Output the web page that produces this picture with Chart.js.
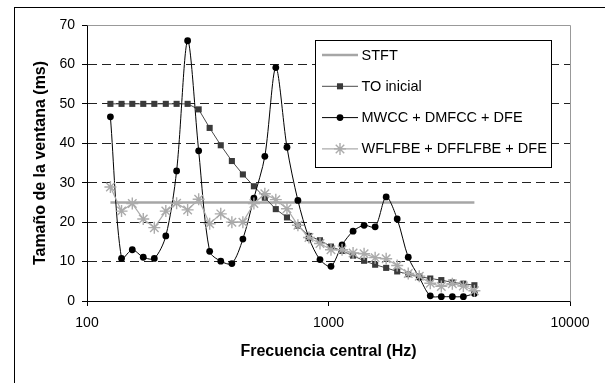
<!DOCTYPE html>
<html>
<head>
<meta charset="utf-8">
<script src="https://cdn.jsdelivr.net/npm/chart.js@4/dist/chart.umd.min.js"></script>
<style>
  body { margin: 0; background: #fff; }
  #caja { width: 605px; height: 383px; }
</style>
</head>
<body>
<div id="caja"><canvas id="grafico"></canvas></div>
<script>
// frecuencias centrales de los filtros (Hz)
const frecuencias = [125, 139, 154, 171, 190, 212, 235, 261, 290, 322, 358, 398, 442, 491, 545, 605,
  673, 747, 830, 922, 1024, 1138, 1264, 1404, 1560, 1733, 1925, 2139, 2376, 2639, 2932, 3257, 3618, 4019];

const stft = [25, 25, 25, 25, 25, 25, 25, 25, 25, 25, 25, 25, 25, 25, 25, 25, 25,
  25, 25, 25, 25, 25, 25, 25, 25, 25, 25, 25, 25, 25, 25, 25, 25, 25];

const toInicial = [50, 50, 50, 50, 50, 50, 50, 50, 48.6, 43.9, 39.5, 35.5, 32.1, 29.1, 26.2, 23.3, 21.2,
  19.1, 16.5, 15.4, 13.8, 12.7, 11.5, 10.2, 9.2, 8.4, 7.5, 6.8, 6.2, 5.7, 5.3, 4.7, 4.4, 4.0];

const mwcc = [46.7, 10.8, 13.0, 11.1, 10.8, 16.5, 33.0, 66.0, 38.1, 12.6, 10.1, 9.5, 15.7, 26.1, 36.7, 59.2, 39.0,
  25.5, 16.0, 10.5, 8.8, 14.2, 17.7, 19.2, 18.8, 26.4, 20.8, 11.1, 6.0, 1.3, 1.1, 1.1, 1.1, 1.9];

const wflfbe = [28.9, 22.8, 24.7, 20.8, 18.6, 22.8, 24.8, 23.1, 25.8, 19.6, 22.1, 20.0, 20.0, 24.7, 27.2, 25.7, 23.4,
  19.2, 16.1, 14.6, 13.0, 13.0, 12.2, 12.0, 11.0, 10.7, 9.0, 7.0, 6.3, 4.5, 3.7, 4.4, 3.8, 2.6];

const ticksX = [100, 1000, 10000];

const fuente = "'Liberation Sans', Arial, sans-serif";

function pares(valores) {
  return frecuencias.map((f, i) => ({ x: f, y: valores[i] }));
}

// marco exterior y borde gris del area de trazado
const marco = {
  id: "marco",
  beforeDraw(chart) {
    const ctx = chart.ctx;
    ctx.save();
    ctx.fillStyle = "#fff";
    ctx.fillRect(0, 0, chart.width, chart.height);
    ctx.strokeStyle = "#000";
    ctx.lineWidth = 1;
    ctx.strokeRect(14.5, 7.5, 700, 500);
    ctx.restore();
  },
  beforeDatasetsDraw(chart) {
    const a = chart.chartArea;
    const ctx = chart.ctx;
    ctx.save();
    ctx.strokeStyle = "#999";
    ctx.lineWidth = 1;
    ctx.beginPath();
    ctx.moveTo(Math.round(a.left) + 0.5, Math.round(a.top) + 0.5);
    ctx.lineTo(Math.round(a.right) + 0.5, Math.round(a.top) + 0.5);
    ctx.lineTo(Math.round(a.right) + 0.5, Math.round(a.bottom) + 0.5);
    ctx.stroke();
    ctx.restore();
  },
};

function marcador(ctx, ds, x, y) {
  const r = ds.pointRadius;
  if (!r) return;
  ctx.fillStyle = ds.pointBackgroundColor;
  ctx.strokeStyle = ds.pointBorderColor;
  ctx.lineWidth = ds.pointBorderWidth;
  ctx.beginPath();
  if (ds.pointStyle === "rect") {
    const s = r * Math.SQRT1_2;
    ctx.rect(x - s, y - s, 2 * s, 2 * s);
    ctx.fill();
  } else if (ds.pointStyle === "circle") {
    ctx.arc(x, y, r, 0, Math.PI * 2);
    ctx.fill();
  } else if (ds.pointStyle === "star") {
    for (let k = 0; k < 4; k++) {
      const ang = (k * Math.PI) / 4;
      ctx.moveTo(x + Math.cos(ang) * r, y + Math.sin(ang) * r);
      ctx.lineTo(x - Math.cos(ang) * r, y - Math.sin(ang) * r);
    }
    ctx.stroke();
  }
}

// leyenda dentro del area de trazado
const leyenda = {
  id: "leyenda",
  afterDraw(chart) {
    const ctx = chart.ctx;
    const caja = { x: 315.5, y: 40.5, w: 236, h: 127 };
    ctx.save();
    ctx.fillStyle = "#fff";
    ctx.fillRect(caja.x, caja.y, caja.w, caja.h);
    ctx.strokeStyle = "#000";
    ctx.lineWidth = 1;
    ctx.strokeRect(caja.x, caja.y, caja.w, caja.h);
    ctx.font = "14.5px " + fuente;
    ctx.textBaseline = "middle";
    chart.data.datasets.forEach((ds, i) => {
      const y = 55 + i * 31.3;
      ctx.strokeStyle = ds.borderColor;
      ctx.lineWidth = ds.borderWidth;
      ctx.beginPath();
      ctx.moveTo(322, y);
      ctx.lineTo(358, y);
      ctx.stroke();
      marcador(ctx, ds, 340, y);
      ctx.fillStyle = "#000";
      ctx.fillText(ds.label, 361.5, y + 0.5);
    });
    ctx.restore();
  },
};

new Chart(document.getElementById("grafico"), {
  type: "line",
  data: {
    datasets: [
      {
        label: "STFT",
        data: pares(stft),
        borderColor: "#a6a6a6",
        borderWidth: 2.5,
        pointRadius: 0,
        order: 4,
      },
      {
        label: "TO inicial",
        data: pares(toInicial),
        borderColor: "#4a4a4a",
        borderWidth: 1,
        pointStyle: "rect",
        pointRadius: 4.3,
        pointBackgroundColor: "#3a3a3a",
        pointBorderColor: "#3a3a3a",
        pointBorderWidth: 0,
        order: 3,
      },
      {
        label: "MWCC + DMFCC + DFE",
        data: pares(mwcc),
        borderColor: "#000",
        borderWidth: 1,
        tension: 0.3,
        pointStyle: "circle",
        pointRadius: 3.4,
        pointBackgroundColor: "#000",
        pointBorderColor: "#000",
        pointBorderWidth: 0,
        order: 2,
      },
      {
        label: "WFLFBE + DFFLFBE + DFE",
        data: pares(wflfbe),
        borderColor: "#ababab",
        borderWidth: 1.2,
        pointStyle: "star",
        pointRadius: 6,
        pointBackgroundColor: "#ababab",
        pointBorderColor: "#ababab",
        pointBorderWidth: 1.4,
        order: 1,
      },
    ],
  },
  plugins: [marco, leyenda],
  options: {
    responsive: true,
    maintainAspectRatio: false,
    animation: false,
    layout: { padding: { top: 25, right: 35, left: 0, bottom: 0 } },
    plugins: {
      legend: { display: false },
      tooltip: { enabled: false },
    },
    scales: {
      x: {
        type: "logarithmic",
        min: 100,
        max: 10000,
        afterBuildTicks: (scale) => {
          scale.ticks = ticksX.map((v) => ({ value: v }));
        },
        afterFit: (scale) => {
          scale.height = 82;
        },
        ticks: {
          color: "#000",
          font: { family: fuente, size: 14 },
          padding: 9,
          maxRotation: 0,
          autoSkip: false,
          callback: (v) => String(v),
        },
        grid: {
          drawOnChartArea: false,
          drawTicks: true,
          tickLength: 5,
          tickColor: "#000",
        },
        border: { color: "#000", width: 1 },
        title: {
          display: true,
          text: "Frecuencia central (Hz)",
          color: "#000",
          font: { family: fuente, size: 16, weight: "bold" },
          padding: { top: 22, bottom: 22 },
        },
      },
      y: {
        min: 0,
        max: 70,
        afterFit: (scale) => {
          scale.width = 87;
        },
        ticks: {
          stepSize: 10,
          color: "#000",
          font: { family: fuente, size: 14 },
          padding: 7,
        },
        grid: {
          color: (ctx) =>
            ctx.tick && (ctx.tick.value === 0 || ctx.tick.value === 70) ? "rgba(0,0,0,0)" : "#222",
          lineWidth: 1,
          drawTicks: true,
          tickLength: 5,
          tickColor: "#000",
        },
        border: { color: "#000", width: 1, dash: [9, 5] },
        title: {
          display: true,
          text: "Tamaño de la ventana (ms)",
          color: "#000",
          font: { family: fuente, size: 16, weight: "bold" },
          padding: { top: 31, bottom: 31 },
        },
      },
    },
  },
});
</script>
</body>
</html>
